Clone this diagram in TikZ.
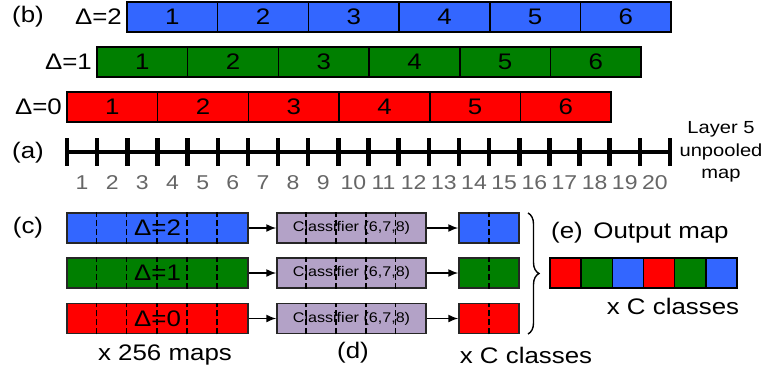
\documentclass[tikz,border=0pt]{standalone}
\usepackage{fontspec}
\setmainfont{Liberation Sans}[FakeStretch=1.15]
\usetikzlibrary{arrows.meta,positioning,decorations.pathreplacing}
\definecolor{mblue}{HTML}{3366FF}
\definecolor{mgreen}{HTML}{007F00}
\definecolor{mred}{HTML}{FF0000}
\definecolor{mlav}{HTML}{B3A2C7}
\definecolor{mgray}{HTML}{666666}

\begin{document}
\begin{tikzpicture}[x=1pt, y=-1pt,
    lbl/.style={font=\fontsize{22.5}{24}\selectfont, inner sep=0pt},
    cell/.style={draw, line width=1.5pt, minimum width=90.7pt, minimum height=30pt, inner sep=0pt,
                 font=\fontsize{22.5}{24}\selectfont},
    rowbox/.style={draw=black!85, line width=1.5pt, minimum width=181pt, minimum height=30pt, inner sep=0pt,
                   font=\fontsize{22.5}{24}\selectfont},
    clsbox/.style={draw=black!85, fill=mlav, line width=1.5pt, minimum width=149pt, minimum height=30pt,
                   inner sep=0pt, font=\fontsize{14}{15}\selectfont},
    outbox/.style={draw=black!85, line width=1.5pt, minimum width=60pt, minimum height=30pt, inner sep=0pt},
    ocell/.style={draw, line width=1.5pt, minimum width=31.17pt, minimum height=30pt, inner sep=0pt},
    sep/.style={line width=1.7pt, dash pattern=on 6pt off 3pt},
    arr/.style={-{Latex[length=10pt,width=8pt]}, line width=1.5pt}]
  \useasboundingbox (0,0) rectangle (771,370);

  % (b) shifted pooling maps
  \node[lbl] (lb) at (28,17) {(b)};
  \foreach \d/\x/\y/\c in {2/127/17/mblue, 1/97/62/mgreen, 0/67/107/mred} {
    \node[lbl, anchor=east] (d\d) at ({\x-5},\y) {Δ=\d};
    \foreach \i in {1,...,6}
      \node[cell, fill=\c] (b\d-\i) at ({\x+(\i-0.5)*90.7},\y) {\i};
  }

  % (a) unpooled map
  \node[lbl] (la) at (28,153) {(a)};
  \draw[line width=4.5pt] (67,152) -- (670,152);
  \foreach \i in {0,...,20}
    \draw[line width=4.5pt] ({67+\i*30.15},138) -- ({67+\i*30.15},166);
  \foreach \i in {1,...,20}
    \node[lbl, text=mgray, font=\fontsize{20}{22}\selectfont] (n\i) at ({67+(\i-0.5)*30.15},183) {\i};
  \node[align=center, inner sep=0pt, font=\fontsize{17.5}{22.5}\selectfont] (lay) at (721,152) {Layer 5\\unpooled\\map};

  % (c) feature maps, (d) classifiers
  \node[lbl] (lc) at (28,228) {(c)};
  \foreach \d/\y/\c in {2/228/mblue, 1/273/mgreen, 0/318.5/mred} {
    \node[rowbox, fill=\c] (m\d) at (157.5,\y) {Δ=\d};
    \foreach \k in {1,...,5}
      \draw[sep] ([xshift=\k*30.17pt]m\d.south west) -- ([xshift=\k*30.17pt]m\d.north west);
    \node[clsbox] (cl\d) at (351.5,\y) {Classifier (6,7,8)};
    \foreach \k in {1,...,4}
      \draw[sep] ([xshift=\k*29.8pt]cl\d.south west) -- ([xshift=\k*29.8pt]cl\d.north west);
    \node[outbox, fill=\c] (o\d) at (489,\y) {};
    \draw[sep] (o\d.south) -- (o\d.north);
    \draw[arr] (m\d) -- (cl\d);
    \draw[arr] (cl\d) -- (o\d);
  }
  \node[lbl] (maps) at (165,355) {x 256 maps};
  \node[lbl] (ld) at (353,353) {(d)};
  \node[lbl] (cls) at (526,355) {x C classes};

  % (e) output map
  \coordinate (bt) at (528,213);
  \coordinate (bb) at (528,334);
  \draw[decorate, decoration={brace, amplitude=11pt}, line width=1.4pt] (bt) -- (bb);
  \node[lbl] (le) at (567,233) {(e)};
  \node[lbl] (omap) at (661,233) {Output map};
  \foreach \i/\c in {1/mred, 2/mgreen, 3/mblue, 4/mred, 5/mgreen, 6/mblue}
    \node[ocell, fill=\c] (e\i) at ({550+(\i-0.5)*31.17},273) {};
  \node[lbl] (ecls) at (673,306) {x C classes};
\end{tikzpicture}
\end{document}
